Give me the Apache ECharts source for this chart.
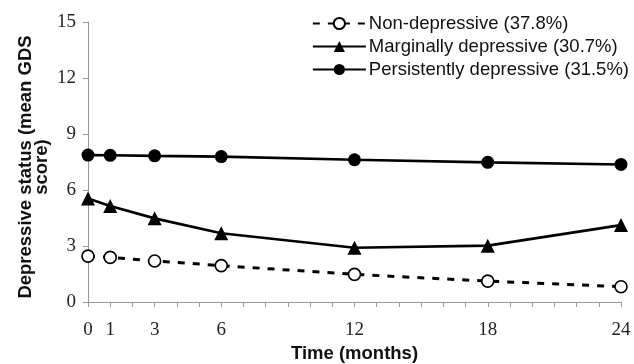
<!DOCTYPE html>
<html>
<head>
<meta charset="utf-8">
<script src="https://cdn.jsdelivr.net/npm/echarts@6/dist/echarts.min.js"></script>
<style>html,body{margin:0;padding:0;background:#fff}#c{width:634px;height:364px}</style>
</head>
<body>
<div id="c"></div>
<script>
const months = [0, 1, 3, 6, 12, 18, 24];
const tickLabels = [0, 1, 3, 6, 12, 18, 24];
const nonDepressive = [2.46, 2.39, 2.2, 1.95, 1.48, 1.12, 0.82];
const marginally = [5.55, 5.14, 4.48, 3.68, 2.91, 3.02, 4.12];
const persistently = [7.87, 7.86, 7.83, 7.79, 7.62, 7.48, 7.37];
const seriesNames = ['Non-depressive (37.8%)', 'Marginally depressive (30.7%)', 'Persistently depressive (31.5%)'];

const pairs = arr => months.map((m, i) => [m, arr[i]]);
const serif = 'Liberation Serif';
const sans = 'Liberation Sans';

const chart = echarts.init(document.getElementById('c'));
chart.setOption({
  animation: false,
  backgroundColor: '#fff',
  grid: { left: 88, right: 13, top: 22, bottom: 62, containLabel: false, outerBoundsMode: 'none' },
  legend: {
    right: 0, top: 9, orient: 'vertical', itemGap: 4,
    itemWidth: 53, itemHeight: 14,
    textStyle: { fontFamily: sans, fontSize: 18.5, color: '#111', padding: [0, 0, 0, -2] },
    data: seriesNames
  },
  xAxis: {
    type: 'value', min: 0, max: 24, interval: 1,
    name: 'Time (months)', nameLocation: 'middle', nameGap: 42, nameMoveOverlap: false,
    nameTextStyle: { fontFamily: sans, fontSize: 18.5, fontWeight: 'bold', color: '#111' },
    axisLine: { lineStyle: { color: '#999', width: 1 } },
    axisTick: { show: true, length: 5, lineStyle: { color: '#999' } },
    splitLine: { show: false },
    axisLabel: {
      fontFamily: serif, fontSize: 19, color: '#222', margin: 19,
      formatter: v => tickLabels.indexOf(v) >= 0 ? String(v) : ''
    }
  },
  yAxis: {
    type: 'value', min: 0, max: 15, interval: 3,
    name: 'Depressive status (mean GDS\nscore)', nameLocation: 'middle', nameGap: 38, nameMoveOverlap: false,
    nameTextStyle: { fontFamily: sans, fontSize: 18.5, fontWeight: 'bold', color: '#111', lineHeight: 16, padding: [0, 10, 0, 0] },
    axisLine: { show: true, lineStyle: { color: '#999', width: 1 } },
    axisTick: { show: true, length: 5, lineStyle: { color: '#999' } },
    splitLine: { show: false },
    axisLabel: { fontFamily: serif, fontSize: 19, color: '#222', margin: 12 }
  },
  series: [
    {
      name: seriesNames[0], type: 'line', data: pairs(nonDepressive),
      symbol: 'circle', symbolSize: 12,
      itemStyle: { color: '#fff', borderColor: '#000', borderWidth: 1.6 },
      lineStyle: { color: '#000', width: 3, type: [7, 8] }
    },
    {
      name: seriesNames[1], type: 'line', data: pairs(marginally),
      symbol: 'triangle', symbolSize: 14,
      itemStyle: { color: '#000' },
      lineStyle: { color: '#000', width: 2.6 }
    },
    {
      name: seriesNames[2], type: 'line', data: pairs(persistently),
      symbol: 'circle', symbolSize: 13,
      itemStyle: { color: '#000' },
      lineStyle: { color: '#000', width: 2.6 }
    }
  ]
});
</script>
</body>
</html>
